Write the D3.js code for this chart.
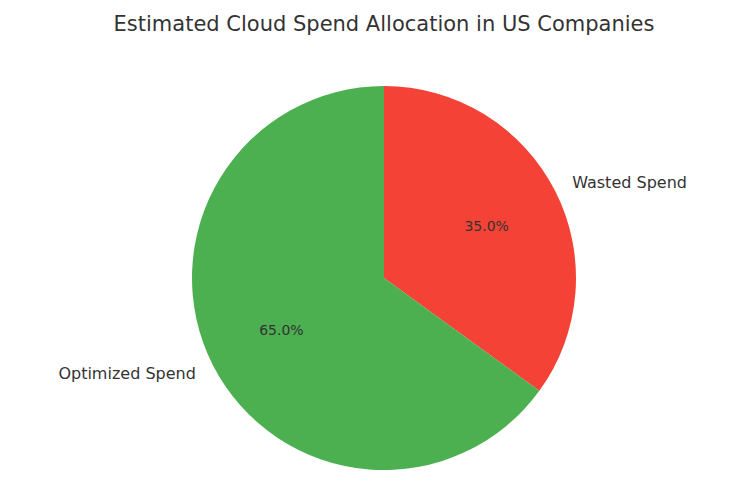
<!DOCTYPE html>
<html>
<head>
<meta charset="utf-8">
<script src="https://cdn.jsdelivr.net/npm/d3@7"></script>
<style>
  body { margin: 0; background: #fff; }
  text { font-family: "DejaVu Sans", sans-serif; fill: #333; }
</style>
</head>
<body>
<svg id="chart" width="750" height="494"></svg>
<script>
const labels = ['Wasted Spend', 'Optimized Spend'];
const shares = [35, 65];
const colors = ['#F44336', '#4CAF50'];

const svg = d3.select('#chart');
const cx = 384, cy = 278, r = 192;

svg.append('text')
  .attr('x', 384).attr('y', 31)
  .attr('text-anchor', 'middle')
  .style('font-size', '21px')
  .text('Estimated Cloud Spend Allocation in US Companies');

// clockwise from top, like matplotlib startangle=90, counterclock=False
const pie = d3.pie().sort(null).value(d => d);
const arcs = pie(shares);
const arc = d3.arc().innerRadius(0).outerRadius(r);

const g = svg.append('g').attr('transform', `translate(${cx},${cy})`);

g.selectAll('path')
  .data(arcs)
  .join('path')
  .attr('d', arc)
  .attr('fill', (d, i) => colors[i]);

const mid = d => (d.startAngle + d.endAngle) / 2;

// outer labels at 1.1 r
g.selectAll('text.lbl')
  .data(arcs)
  .join('text')
  .attr('class', 'lbl')
  .attr('x', d => 1.1 * r * Math.sin(mid(d)))
  .attr('y', d => -1.1 * r * Math.cos(mid(d)))
  .attr('dy', '0.35em')
  .attr('text-anchor', d => Math.sin(mid(d)) >= 0 ? 'start' : 'end')
  .style('font-size', '16px')
  .text((d, i) => labels[i]);

// percentages at 0.6 r
g.selectAll('text.pct')
  .data(arcs)
  .join('text')
  .attr('class', 'pct')
  .attr('x', d => 0.6 * r * Math.sin(mid(d)))
  .attr('y', d => -0.6 * r * Math.cos(mid(d)))
  .attr('dy', '0.35em')
  .attr('text-anchor', 'middle')
  .style('font-size', '14px')
  .text(d => d.value.toFixed(1) + '%');
</script>
</body>
</html>
